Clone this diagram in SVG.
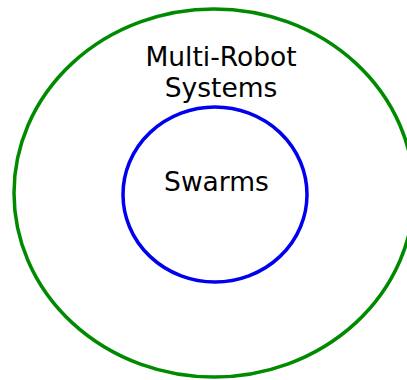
<svg xmlns="http://www.w3.org/2000/svg" width="407" height="380" viewBox="0 0 407 380">
<style>
text{font-family:"DejaVu Sans",sans-serif;font-size:26.5px;fill:#000;text-anchor:middle}
.ring{fill:none;stroke-width:3.5}
</style>
<rect width="407" height="380" fill="#fff"/>
<g id="multi-robot">
<ellipse class="ring" cx="214" cy="193" rx="200" ry="184" stroke="#008a00"/>
<text x="221" y="66">Multi-Robot</text>
<text x="221" y="97">Systems</text>
</g>
<g id="swarms">
<ellipse class="ring" cx="215" cy="194.5" rx="92" ry="87.5" stroke="#0000ee"/>
<text x="216.5" y="191">Swarms</text>
</g>
<g id="connectors"/>
</svg>
